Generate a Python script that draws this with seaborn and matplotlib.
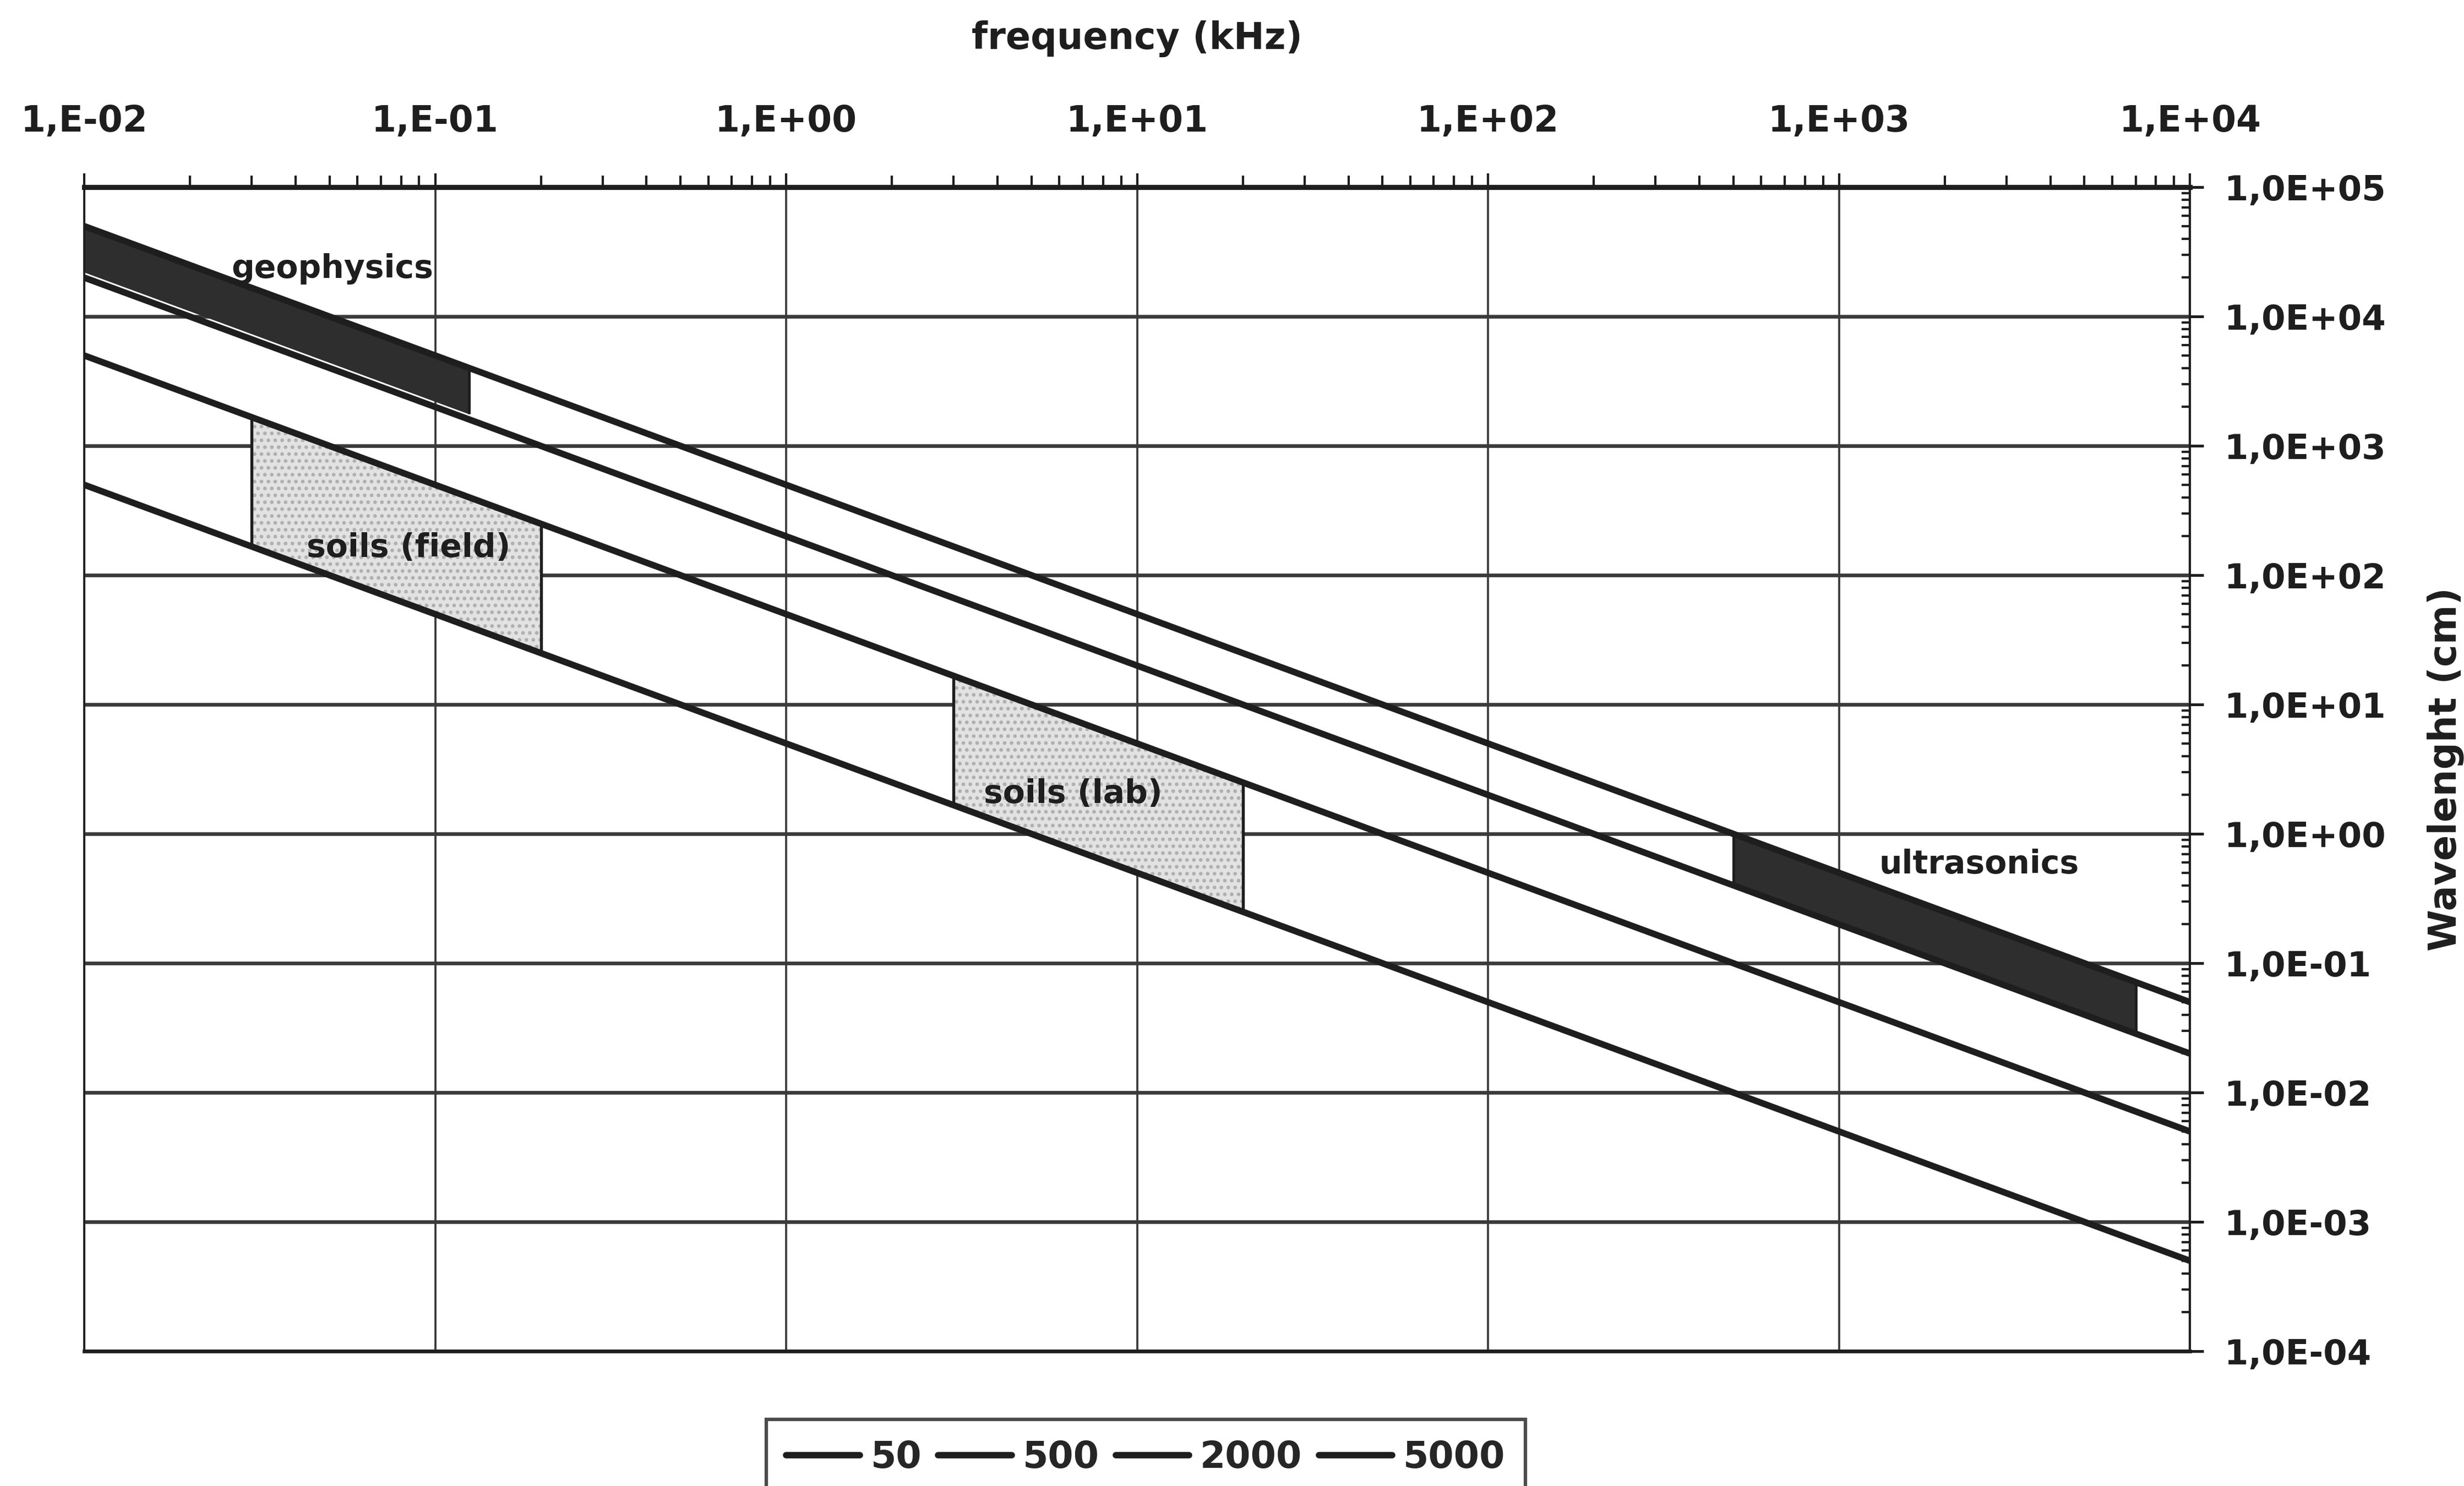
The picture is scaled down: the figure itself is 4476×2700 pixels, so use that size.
"""
Wavelength vs frequency for several wave velocities (log-log), with application bands.
"""
import numpy as np
import pandas as pd
import matplotlib
matplotlib.use("Agg")
import matplotlib.pyplot as plt
import matplotlib.ticker as mticker
import seaborn as sns

# line end points (frequency in kHz, wavelength in cm) per velocity (m/s)
freq_ends = [1e-2, 1e4]
velocities = ["50", "500", "2000", "5000"]
wl_50 = [5e2, 5e-4]
wl_500 = [5e3, 5e-3]
wl_2000 = [2e4, 2e-2]
wl_5000 = [5e4, 5e-2]

# shaded bands: frequency range, upper and lower wavelength at those frequencies
geo_freq = [0.01, 0.125]
geo_upper = [50000, 4000]
geo_lower = [22000, 1760]

field_freq = [0.03, 0.2]
field_upper = [1667, 250]
field_lower = [167, 25]

lab_freq = [3, 20]
lab_upper = [16.7, 2.5]
lab_lower = [1.67, 0.25]

ultra_freq = [500, 7000]
ultra_upper = [1.0, 0.0714]
ultra_lower = [0.4, 0.0286]

x_ticks = [1e-2, 1e-1, 1e0, 1e1, 1e2, 1e3, 1e4]
x_tick_labels = ["1,E-02", "1,E-01", "1,E+00", "1,E+01", "1,E+02", "1,E+03", "1,E+04"]
y_ticks = [1e-4, 1e-3, 1e-2, 1e-1, 1e0, 1e1, 1e2, 1e3, 1e4, 1e5]
y_tick_labels = ["1,0E-04", "1,0E-03", "1,0E-02", "1,0E-01", "1,0E+00",
                 "1,0E+01", "1,0E+02", "1,0E+03", "1,0E+04", "1,0E+05"]

sns.set_theme(style="white")
plt.rcParams["font.family"] = ["DejaVu Sans"]
plt.rcParams["font.weight"] = "bold"
INK = "#1e1e1e"

df = pd.DataFrame({
    "freq": freq_ends * 4,
    "wavelength": wl_50 + wl_500 + wl_2000 + wl_5000,
    "velocity": [v for v in velocities for _ in freq_ends],
})

fig = plt.figure(figsize=(4476 / 300, 2700 / 300), dpi=300)
ax = fig.add_axes([0.0342, 0.0907, 0.8546, 0.7833])

# bands first so the lines sit on top
ax.fill_between(geo_freq, geo_lower, geo_upper, color="#2e2e2e", lw=0, zorder=2)
ax.vlines(geo_freq[1], geo_lower[1], geo_upper[1], color=INK, lw=1.2, zorder=2)
ax.fill_between(ultra_freq, ultra_lower, ultra_upper, color="#2e2e2e", lw=0, zorder=2)
ax.vlines(ultra_freq, ultra_lower, ultra_upper, color=INK, lw=1.2, zorder=2)
for fr, lo, up in [(field_freq, field_lower, field_upper), (lab_freq, lab_lower, lab_upper)]:
    ax.fill_between(fr, lo, up, facecolor="#e2e2e2", edgecolor="#b0b0b0",
                    hatch="....", lw=0, zorder=2)
    ax.vlines(fr, lo, up, color=INK, lw=1.3, zorder=3)

sns.lineplot(data=df, x="freq", y="wavelength", hue="velocity",
             palette=[INK] * 4, linewidth=2.8, ax=ax, zorder=4)

ax.set_xscale("log")
ax.set_yscale("log")
ax.set_xlim(1e-2, 1e4)
ax.set_ylim(1e-4, 1e5)

ax.xaxis.tick_top()
ax.yaxis.tick_right()
ax.xaxis.set_label_position("top")
ax.yaxis.set_label_position("right")
ax.set_xticks(x_ticks)
ax.set_xticklabels(x_tick_labels)
ax.set_yticks(y_ticks)
ax.set_yticklabels(y_tick_labels)
ax.xaxis.set_minor_locator(mticker.LogLocator(base=10, subs=range(2, 10), numticks=20))
ax.yaxis.set_minor_locator(mticker.LogLocator(base=10, subs=range(2, 10), numticks=20))
ax.xaxis.set_minor_formatter(mticker.NullFormatter())
ax.yaxis.set_minor_formatter(mticker.NullFormatter())

ax.tick_params(axis="x", which="major", direction="out", length=6, width=1.0,
               color=INK, pad=15, labelsize=15.5, labelcolor=INK)
ax.tick_params(axis="x", which="minor", direction="out", length=5, width=1.0, color=INK)
ax.tick_params(axis="y", which="major", direction="out", length=6, width=1.2,
               color=INK, pad=9, labelsize=15, labelcolor=INK)
ax.tick_params(axis="y", which="minor", direction="in", length=3.5, width=1.0, color=INK)

ax.grid(True, which="major", axis="y", color="#3a3a3a", lw=1.6)
ax.grid(True, which="major", axis="x", color="#3a3a3a", lw=0.9)
for side, lw in [("top", 2.2), ("bottom", 1.6), ("left", 0.9), ("right", 1.0)]:
    ax.spines[side].set_color(INK)
    ax.spines[side].set_linewidth(lw)

ax.set_xlabel("frequency (kHz)", fontsize=16, fontweight="bold", color=INK, labelpad=24)
ax.set_ylabel("Wavelenght (cm)", fontsize=16.5, fontweight="bold", color=INK,
              labelpad=18)

ax.text(0.051, 23400, "geophysics", fontsize=14, fontweight="bold", color=INK,
        ha="center", va="center", zorder=5)
ax.text(0.084, 162, "soils (field)", fontsize=14, fontweight="bold", color=INK,
        ha="center", va="center", zorder=5)
ax.text(6.56, 2.04, "soils (lab)", fontsize=14, fontweight="bold", color=INK,
        ha="center", va="center", zorder=5)
ax.text(2510, 0.58, "ultrasonics", fontsize=14, fontweight="bold", color=INK,
        ha="center", va="center", zorder=5)

handles, labels = ax.get_legend_handles_labels()
ax.get_legend().remove()
leg = fig.legend(handles, labels, loc="upper center", bbox_to_anchor=(0.465, 0.045),
                 ncol=4, frameon=True, fancybox=False, edgecolor=INK, fontsize=16,
                 handlelength=2.0, handletextpad=0.3, columnspacing=0.45, borderpad=0.55,
                 borderaxespad=0)
leg.get_frame().set_linewidth(1.5)
for line in leg.get_lines():
    line.set_linewidth(2.8)

fig.savefig("out.png", dpi=300, facecolor="white")
